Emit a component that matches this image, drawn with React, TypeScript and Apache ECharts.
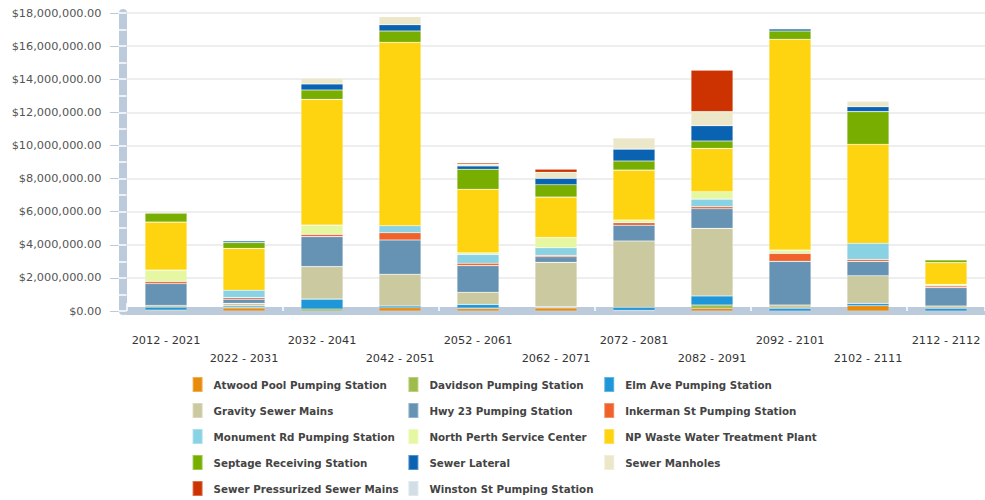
import React, { useEffect, useRef } from "react";
import * as echarts from "echarts";

const categories = [
  "2012 - 2021", "2022 - 2031", "2032 - 2041", "2042 - 2051", "2052 - 2061", "2062 - 2071",
  "2072 - 2081", "2082 - 2091", "2092 - 2101", "2102 - 2111", "2112 - 2112",
];

const seriesNames = [
  "Atwood Pool Pumping Station", "Davidson Pumping Station", "Elm Ave Pumping Station",
  "Gravity Sewer Mains", "Hwy 23 Pumping Station", "Inkerman St Pumping Station",
  "Monument Rd Pumping Station", "North Perth Service Center", "NP Waste Water Treatment Plant",
  "Septage Receiving Station", "Sewer Lateral", "Sewer Manholes",
  "Sewer Pressurized Sewer Mains", "Winston St Pumping Station",
];

const seriesColors = [
  "#e88b0a", "#9fbb4a", "#1f96d8", "#cbc9a0", "#6693b3", "#f0622a", "#88d2e3",
  "#e6f7a2", "#fed310", "#77ae00", "#0a62b2", "#ece7c8", "#cc3300", "#d2dee6",
];

const atwood = [0, 180000, 0, 200000, 140000, 180000, 0, 160000, 0, 320000, 0];
const davidson = [50000, 50000, 120000, 0, 40000, 40000, 40000, 200000, 0, 0, 0];
const elmAve = [180000, 80000, 600000, 100000, 220000, 40000, 180000, 550000, 160000, 140000, 160000];
const gravity = [100000, 150000, 1960000, 1920000, 730000, 2680000, 4010000, 4080000, 200000, 1670000, 140000];
const hwy23 = [1330000, 250000, 1810000, 2070000, 1610000, 340000, 950000, 1190000, 2640000, 870000, 1110000];
const inkerman = [120000, 100000, 140000, 440000, 140000, 80000, 160000, 120000, 480000, 120000, 100000];
const monument = [0, 440000, 0, 420000, 540000, 460000, 0, 460000, 0, 970000, 0];
const northPerth = [690000, 0, 560000, 0, 100000, 610000, 160000, 440000, 200000, 0, 100000];
const npWaste = [2900000, 2530000, 7590000, 11080000, 3830000, 2450000, 3010000, 2620000, 12730000, 5980000, 1310000];
const septage = [530000, 350000, 570000, 680000, 1210000, 750000, 550000, 450000, 500000, 1970000, 160000];
const sewerLateral = [0, 100000, 360000, 380000, 200000, 380000, 720000, 920000, 120000, 300000, 0];
const sewerManholes = [0, 0, 340000, 480000, 100000, 370000, 670000, 850000, 0, 340000, 0];
const sewerPressurized = [0, 0, 0, 0, 80000, 190000, 0, 2510000, 0, 0, 0];
const winston = [0, 0, 0, 0, 0, 0, 0, 0, 0, 0, 0];

const seriesValues = [
  atwood, davidson, elmAve, gravity, hwy23, inkerman, monument, northPerth,
  npWaste, septage, sewerLateral, sewerManholes, sewerPressurized, winston,
];

const yTicks = { min: 0, max: 18000000, interval: 2000000 };

const BAND = "#bccbdb";
const FONT = "DejaVu Sans, Verdana, sans-serif";

export default function App() {
  const ref = useRef<HTMLDivElement>(null);

  useEffect(() => {
    if (!ref.current) return;
    const chart = echarts.init(ref.current, null, { renderer: "svg" });

    const legendCol = (idxs: number[], left: number) => ({
      orient: "vertical",
      left,
      top: 376,
      height: 160,
      padding: 0,
      itemWidth: 10,
      itemHeight: 15,
      itemGap: 9,
      icon: "rect",
      selectedMode: false,
      data: idxs.map((i) => seriesNames[i]),
      textStyle: {
        fontFamily: FONT,
        fontSize: 10.3,
        fontWeight: "bold",
        color: "#444",
        padding: [0, 0, 0, 6],
      },
    });

    const option = {
      animation: false,
      backgroundColor: "#fff",
      grid: { left: 127, top: 13, width: 866, bottom: 189, containLabel: false },
      legend: [
        legendCol([0, 3, 6, 9, 12], 191.6),
        legendCol([1, 4, 7, 10, 13], 407.4),
        legendCol([2, 5, 8, 11], 603.2),
      ],
      xAxis: [
        {
          type: "category",
          data: categories,
          position: "bottom",
          offset: 5,
          z: 1,
          axisLine: { show: true, lineStyle: { color: BAND, width: 8 } },
          axisTick: { show: false },
          axisLabel: {
            interval: 0,
            margin: 15,
            fontFamily: FONT,
            fontSize: 11.3,
            color: "#333",
            lineHeight: 18,
            verticalAlign: "top",
            formatter: (v: string, i: number) => (i % 2 === 1 ? "\n" + v : v),
          },
        },
        {
          type: "category",
          data: categories,
          position: "bottom",
          offset: 9,
          z: 2,
          axisLine: { show: false },
          axisTick: { show: true, inside: true, length: 8, lineStyle: { color: "#fff", width: 1.5 } },
          axisLabel: { show: false },
        },
      ],
      yAxis: [
        {
          type: "value",
          min: yTicks.min,
          max: yTicks.max,
          interval: yTicks.interval,
          position: "left",
          offset: 4.5,
          z: 1,
          axisLine: { show: true, lineStyle: { color: BAND, width: 8 } },
          axisTick: { show: true, length: 12.5, lineStyle: { color: BAND, width: 1 } },
          splitLine: { show: true, lineStyle: { color: "#e9e9e9", width: 1.5 } },
          axisLabel: {
            margin: 21,
            fontFamily: FONT,
            fontSize: 11.3,
            color: "#555",
            formatter: (v: number) =>
              "$" + v.toLocaleString("en-US", { minimumFractionDigits: 2, maximumFractionDigits: 2 }),
          },
        },
        {
          type: "value",
          min: yTicks.min,
          max: yTicks.max,
          interval: yTicks.interval,
          position: "left",
          offset: 8.5,
          z: 2,
          axisLine: { show: false },
          axisTick: { show: true, inside: true, length: 8, lineStyle: { color: "#fff", width: 1.5 } },
          minorTick: { show: true, splitNumber: 2, length: 8, lineStyle: { color: "#fff", width: 1.5 } },
          splitLine: { show: false },
          axisLabel: { show: false },
        },
      ],
      series: seriesNames.map((name, i) => ({
        name,
        type: "bar",
        stack: "total",
        barWidth: 42,
        xAxisIndex: 0,
        yAxisIndex: 0,
        color: seriesColors[i],
        itemStyle: { color: seriesColors[i], borderColor: "rgba(255,255,255,0.3)", borderWidth: 0.6 },
        data: seriesValues[i].map((v) => (v === 0 ? null : v)),
      })),
    };

    chart.setOption(option as any);
    return () => chart.dispose();
  }, []);

  return (
    <div
      ref={ref}
      style={{ position: "fixed", left: 0, top: 0, width: 985, height: 500, background: "#fff" }}
    />
  );
}
